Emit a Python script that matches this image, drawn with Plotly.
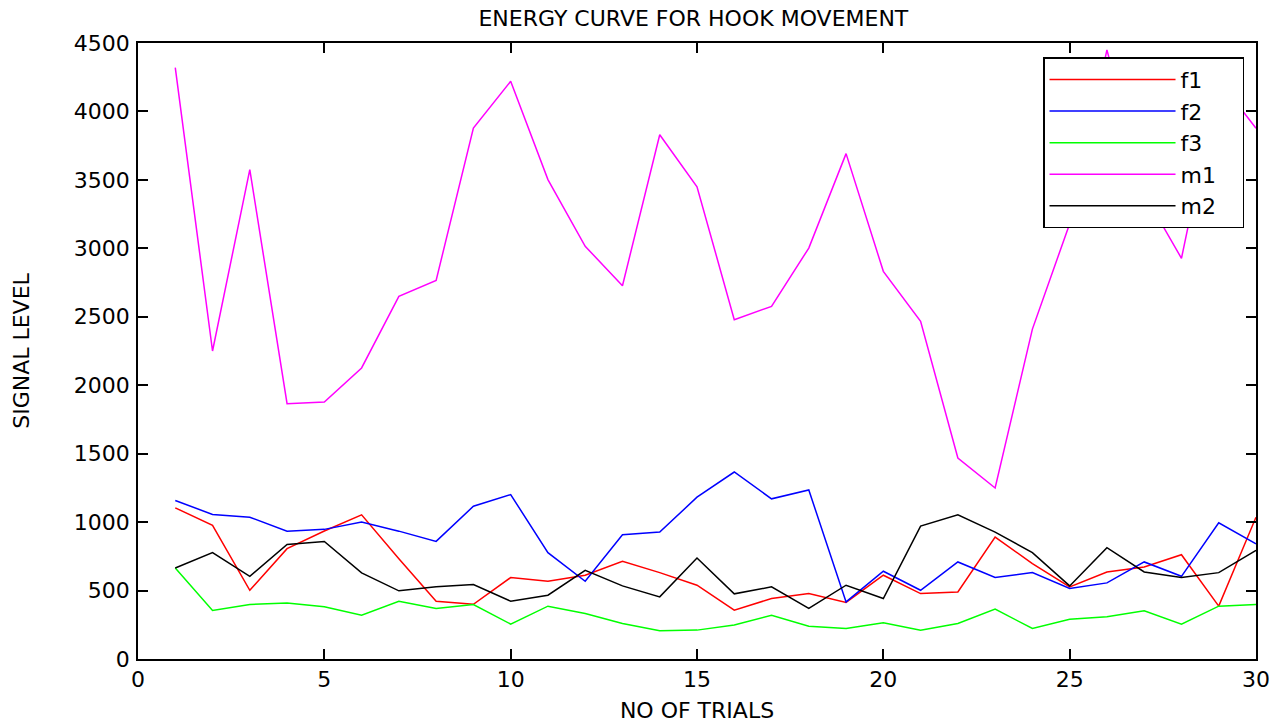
import plotly.graph_objects as go

trials = list(range(1, 31))
f1 = [1104, 976, 502, 806, 935, 1053, 733, 422, 400, 595, 568, 612, 714, 631, 539, 357, 442, 478, 413, 612,
      478, 490, 891, 697, 527, 636, 672, 762, 386, 1036]
f2 = [1158, 1056, 1036, 934, 947, 1000, 934, 859, 1116, 1201, 777, 568, 908, 927, 1182, 1366, 1170, 1235, 417, 641,
      502, 709, 595, 631, 515, 556, 709, 604, 995, 842]
f3 = [665, 354, 398, 410, 381, 320, 422, 369, 398, 255, 386, 333, 260, 206, 211, 248, 320, 240, 223, 265,
      211, 260, 364, 223, 291, 308, 352, 255, 386, 398]
m1 = [4320, 2250, 3575, 1865, 1877, 2126, 2649, 2766, 3879, 4220, 3502, 3015, 2727, 3830, 3450, 2479, 2576, 3002, 3692, 2832,
      2467, 1468, 1249, 2410, 3180, 4450, 3400, 2927, 4230, 3877]
m2 = [665, 777, 604, 837, 859, 629, 498, 527, 544, 422, 466, 648, 534, 454, 738, 476, 527, 369, 539, 442,
      971, 1053, 927, 777, 534, 813, 636, 595, 631, 794]

series = [("f1", f1, "#ff0000"), ("f2", f2, "#0000ff"), ("f3", f3, "#00ff00"),
          ("m1", m1, "#ff00ff"), ("m2", m2, "#000000")]

fig = go.Figure()
pad = "\u00a0" * 3
for name, vals, col in series:
    fig.add_trace(go.Scatter(x=trials, y=vals, mode="lines", name=name + pad,
                             line=dict(color=col, width=1.5)))

font = "DejaVu Sans, Liberation Sans, Arial, sans-serif"
fig.update_layout(
    width=1284, height=725,
    margin=dict(l=138, r=28, t=43, b=66),
    paper_bgcolor="white", plot_bgcolor="white",
    font=dict(family=font, size=21, color="black"),
    title=dict(text="ENERGY CURVE FOR HOOK MOVEMENT", x=0.54, xanchor="center",
               y=0.975, yanchor="middle", font=dict(size=22, color="black")),
    showlegend=True,
    legend=dict(x=0.8095, y=0.977, xanchor="left", yanchor="top",
                bgcolor="white", bordercolor="black", borderwidth=1.5,
                font=dict(size=22, color="black"), itemwidth=126,
                tracegroupgap=0),
)
axis_common = dict(showgrid=False, zeroline=False, showline=True, linecolor="black", linewidth=1.5,
                   mirror="allticks", ticks="inside", ticklen=10, tickwidth=1.5, tickcolor="black",
                   tickfont=dict(size=22, color="black"), automargin=False)
fig.update_xaxes(range=[0, 30], dtick=5, tick0=0,
                 title=dict(text="NO OF TRIALS", standoff=11, font=dict(size=22)), **axis_common)
fig.update_yaxes(range=[0, 4500], dtick=500, tick0=0, ticklabelstandoff=2,
                 title=dict(text="SIGNAL LEVEL", standoff=38, font=dict(size=22)), **axis_common)

fig.write_html("out.html")
